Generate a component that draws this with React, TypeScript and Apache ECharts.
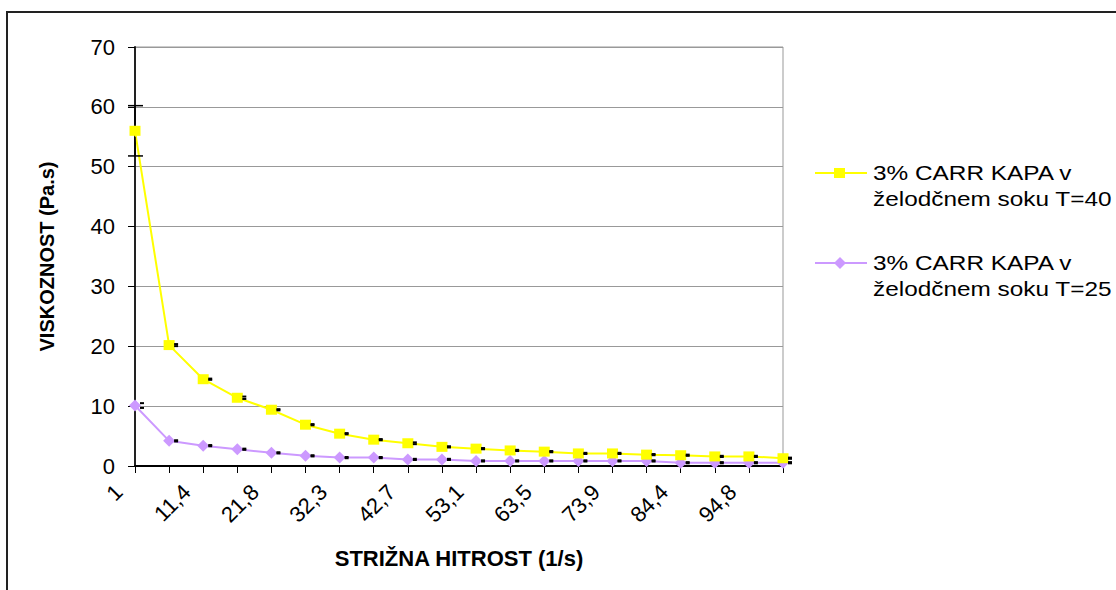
import React, { useEffect, useRef } from "react";
import * as echarts from "echarts";

// Shear rate categories (1/s)
const shearRates = [
  "1", "6,2", "11,4", "16,6", "21,8", "27", "32,3", "37,5", "42,7", "47,9",
  "53,1", "58,3", "63,5", "68,7", "73,9", "79,2", "84,4", "89,6", "94,8", "100",
];

// Viscosity (Pa.s)
const viscosityT40 = [
  56, 20.2, 14.5, 11.4, 9.4, 6.9, 5.4, 4.4, 3.8, 3.2,
  2.9, 2.6, 2.4, 2.1, 2.1, 1.9, 1.8, 1.6, 1.6, 1.3,
];
const viscosityT25 = [
  10.1, 4.2, 3.4, 2.8, 2.2, 1.7, 1.4, 1.4, 1.1, 1.1,
  0.85, 0.85, 0.85, 0.85, 0.85, 0.85, 0.55, 0.55, 0.55, 0.55,
];

// Standard deviations
const errorT40 = [
  4.2, 0.17, 0.1, 0.2, 0.1, 0.1, 0.1, 0.1, 0.15, 0.1,
  0.1, 0.1, 0.1, 0.1, 0.1, 0.1, 0.1, 0.1, 0.1, 0.1,
];
const errorT25 = [
  0.4, 0.1, 0.1, 0.1, 0.1, 0.1, 0.1, 0.1, 0.1, 0.1,
  0.1, 0.1, 0.1, 0.1, 0.1, 0.1, 0.1, 0.1, 0.1, 0.1,
];

const seriesNames = [
  "3% CARR KAPA v\nželodčnem soku T=40",
  "3% CARR KAPA v\nželodčnem soku T=25",
];
const seriesColors = ["#FFFF00", "#CC99FF"];

const yTicks = { min: 0, max: 70, interval: 10 };

const FONT = "'Liberation Sans', Arial, sans-serif";

function errorSeries(values: number[], errors: number[]) {
  return {
    type: "custom",
    z: 5,
    silent: true,
    clip: false,
    data: values.map((v, i) => [i, v, errors[i]]),
    encode: { x: 0, y: 1 },
    renderItem: (_params: any, api: any) => {
      const i = api.value(0);
      const v = api.value(1);
      const e = api.value(2);
      const c = api.coord([i, v]);
      const top = api.coord([i, v + e]);
      const bot = api.coord([i, v - e]);
      const big = bot[1] - top[1] > 14;
      const left = big ? -7 : 5;
      const right = big ? 8 : 9;
      const stroke = { stroke: "#000", lineWidth: big ? 1.5 : 2 };
      const children: any[] = [
        { type: "line", shape: { x1: c[0] + left, y1: top[1], x2: c[0] + right, y2: top[1] }, style: stroke },
        { type: "line", shape: { x1: c[0] + left, y1: bot[1], x2: c[0] + right, y2: bot[1] }, style: stroke },
      ];
      if (big) {
        children.push(
          { type: "line", shape: { x1: c[0], y1: top[1], x2: c[0], y2: c[1] - 6 }, style: stroke },
          { type: "line", shape: { x1: c[0], y1: c[1] + 6, x2: c[0], y2: bot[1] }, style: stroke }
        );
      }
      return { type: "group", children };
    },
  };
}

function legendItem(idx: number, y: number) {
  const color = seriesColors[idx];
  const marker =
    idx === 0
      ? { type: "rect", shape: { x: 834, y: y - 5, width: 11, height: 10 }, style: { fill: color } }
      : {
          type: "polygon",
          shape: { points: [[840, y - 6], [846, y], [840, y + 6], [834, y]] },
          style: { fill: color },
        };
  return [
    { type: "line", shape: { x1: 815, y1: y, x2: 867, y2: y }, style: { stroke: color, lineWidth: 2 } },
    marker,
    {
      type: "text",
      x: 873,
      y: y - 13,
      scaleX: 1.16,
      style: {
        text: seriesNames[idx],
        font: `21px ${FONT}`,
        lineHeight: 26,
        fill: "#000",
        verticalAlign: "top",
      },
    },
  ];
}

export default function App() {
  const ref = useRef<HTMLDivElement>(null);

  useEffect(() => {
    if (!ref.current) return;
    const chart = echarts.init(ref.current, null, { renderer: "svg" });
    chart.setOption({
      animation: false,
      backgroundColor: "#fff",
      textStyle: { fontFamily: FONT },
      grid: {
        left: 135,
        right: 333,
        top: 47,
        bottom: 124,
        show: true,
        borderColor: "#999",
        borderWidth: 1,
      },
      xAxis: {
        type: "category",
        data: shearRates,
        boundaryGap: false,
        name: "STRIŽNA HITROST (1/s)",
        nameLocation: "middle",
        nameGap: 81,
        nameTextStyle: { fontSize: 22, fontWeight: "bold", color: "#000", fontFamily: FONT },
        axisLine: { lineStyle: { color: "#000", width: 2 } },
        axisTick: { show: true, interval: 0, length: 7, lineStyle: { color: "#000", width: 1 } },
        axisLabel: {
          interval: 1,
          rotate: 45,
          margin: 6,
          fontSize: 22,
          color: "#000",
          fontFamily: FONT,
          padding: [0, 23, 28, 0],
        },
        splitLine: { show: false },
      },
      yAxis: {
        type: "value",
        min: yTicks.min,
        max: yTicks.max,
        interval: yTicks.interval,
        name: "VISKOZNOST (Pa.s)",
        nameLocation: "middle",
        nameRotate: 90,
        nameGap: 78,
        nameTextStyle: { fontSize: 20, fontWeight: "bold", color: "#000", fontFamily: FONT },
        axisLine: { show: true, lineStyle: { color: "#222", width: 2 } },
        axisTick: { show: true, length: 7, lineStyle: { color: "#000", width: 1 } },
        axisLabel: { margin: 20, fontSize: 22, color: "#000", fontFamily: FONT },
        splitLine: { show: true, lineStyle: { color: "#999", width: 1 } },
      },
      series: [
        {
          name: seriesNames[0],
          type: "line",
          data: viscosityT40,
          symbol: "rect",
          symbolSize: [11, 10],
          itemStyle: { color: seriesColors[0] },
          lineStyle: { color: seriesColors[0], width: 2 },
          z: 3,
        },
        {
          name: seriesNames[1],
          type: "line",
          data: viscosityT25,
          symbol: "diamond",
          symbolSize: [12, 12],
          itemStyle: { color: seriesColors[1] },
          lineStyle: { color: seriesColors[1], width: 2 },
          z: 2,
        },
        errorSeries(viscosityT40, errorT40),
        errorSeries(viscosityT25, errorT25),
      ],
      graphic: [
        {
          type: "polyline",
          shape: { points: [[7, 590], [7, 12], [1116, 12]] },
          style: { stroke: "#222", lineWidth: 2, fill: "none" },
        },
        ...legendItem(0, 173),
        ...legendItem(1, 263),
      ],
    });
    return () => chart.dispose();
  }, []);

  return (
    <div
      ref={ref}
      style={{ position: "fixed", left: 0, top: 0, width: 1116, height: 590, background: "#fff" }}
    />
  );
}
